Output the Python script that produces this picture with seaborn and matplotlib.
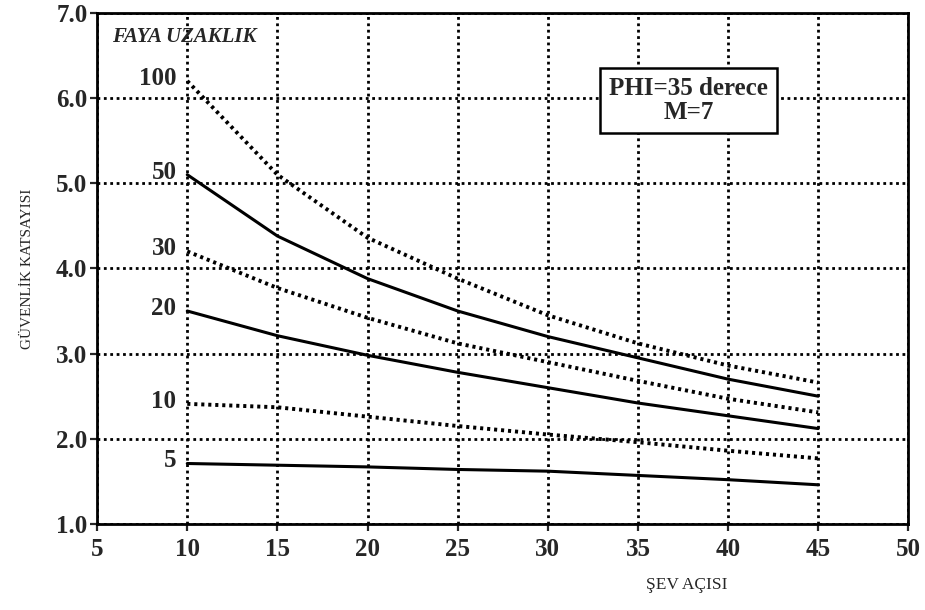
import matplotlib.pyplot as plt
import pandas as pd
import seaborn as sns

# slope angle (x) and safety factor curves per fault distance
sev_acisi = [10, 15, 20, 25, 30, 35, 40, 45]
faya_uzaklik = ["100", "50", "30", "20", "10", "5"]
fs_100 = [6.20, 5.10, 4.36, 3.88, 3.45, 3.12, 2.86, 2.66]
fs_50 = [5.10, 4.38, 3.88, 3.50, 3.20, 2.95, 2.70, 2.50]
fs_30 = [4.20, 3.77, 3.42, 3.12, 2.90, 2.68, 2.47, 2.31]
fs_20 = [3.50, 3.21, 2.98, 2.78, 2.60, 2.42, 2.27, 2.12]
fs_10 = [2.41, 2.37, 2.26, 2.15, 2.05, 1.96, 1.86, 1.77]
fs_5 = [1.71, 1.69, 1.67, 1.64, 1.62, 1.57, 1.52, 1.46]

x_ticks = [5, 10, 15, 20, 25, 30, 35, 40, 45, 50]
y_ticks = [1.0, 2.0, 3.0, 4.0, 5.0, 6.0, 7.0]

series = [fs_100, fs_50, fs_30, fs_20, fs_10, fs_5]
rows = []
for name, vals in zip(faya_uzaklik, series):
    for x, y in zip(sev_acisi, vals):
        rows.append({"aci": x, "fs": y, "uzaklik": name})
df = pd.DataFrame(rows)

sns.set_style("white")
plt.rcParams["font.family"] = ["Liberation Serif", "DejaVu Serif"]

fig = plt.figure(figsize=(9.25, 6.1), dpi=100)
ax = fig.add_axes([0.105, 0.141, 0.877, 0.838])

dotted = (0, (0.8, 1.0))
styles = {"100": dotted, "50": "-", "30": dotted, "20": "-", "10": dotted, "5": "-"}
for name in faya_uzaklik:
    sub = df[df["uzaklik"] == name]
    ls = styles[name]
    sns.lineplot(data=sub, x="aci", y="fs", ax=ax, color="black",
                 linestyle=ls, linewidth=2.8 if ls != "-" else 2.2, legend=False)
    ax.text(9.4, sub["fs"].iloc[0] + 0.03, name, ha="right", va="center",
            fontsize=18, fontweight="bold")

ax.set_xlim(5, 50)
ax.set_ylim(1.0, 7.0)
ax.set_xticks(x_ticks)
ax.set_yticks(y_ticks)
ax.set_xticklabels([str(t) for t in x_ticks], fontsize=18, fontweight="bold")
ax.set_yticklabels([f"{t:.1f}" for t in y_ticks], fontsize=18, fontweight="bold")
ax.grid(True, color="black", linestyle=(0, (1, 1.3)), linewidth=2.0)
ax.tick_params(axis="both", direction="out", length=5, width=1.6, pad=5,
               bottom=True, left=True)
ax.tick_params(axis="y", pad=2)
for sp in ax.spines.values():
    sp.set_color("black")
    sp.set_linewidth(2.0)

ax.set_xlabel("")
ax.set_ylabel("GÜVENLİK KATSAYISI", fontsize=11, labelpad=16)
fig.text(0.742, 0.035, "ŞEV AÇISI", ha="center", fontsize=12.5)

ax.text(5.85, 6.72, "FAYA UZAKLIK", fontsize=15, fontweight="bold",
        style="italic", ha="left", va="center")
ax.text(37.8, 5.97, "PHI=35 derece\nM=7", fontsize=18, fontweight="bold",
        ha="center", va="center", linespacing=1.05,
        bbox=dict(boxstyle="square,pad=0.35", facecolor="white",
                  edgecolor="black", linewidth=1.8))

fig.savefig("out.png", dpi=100)
